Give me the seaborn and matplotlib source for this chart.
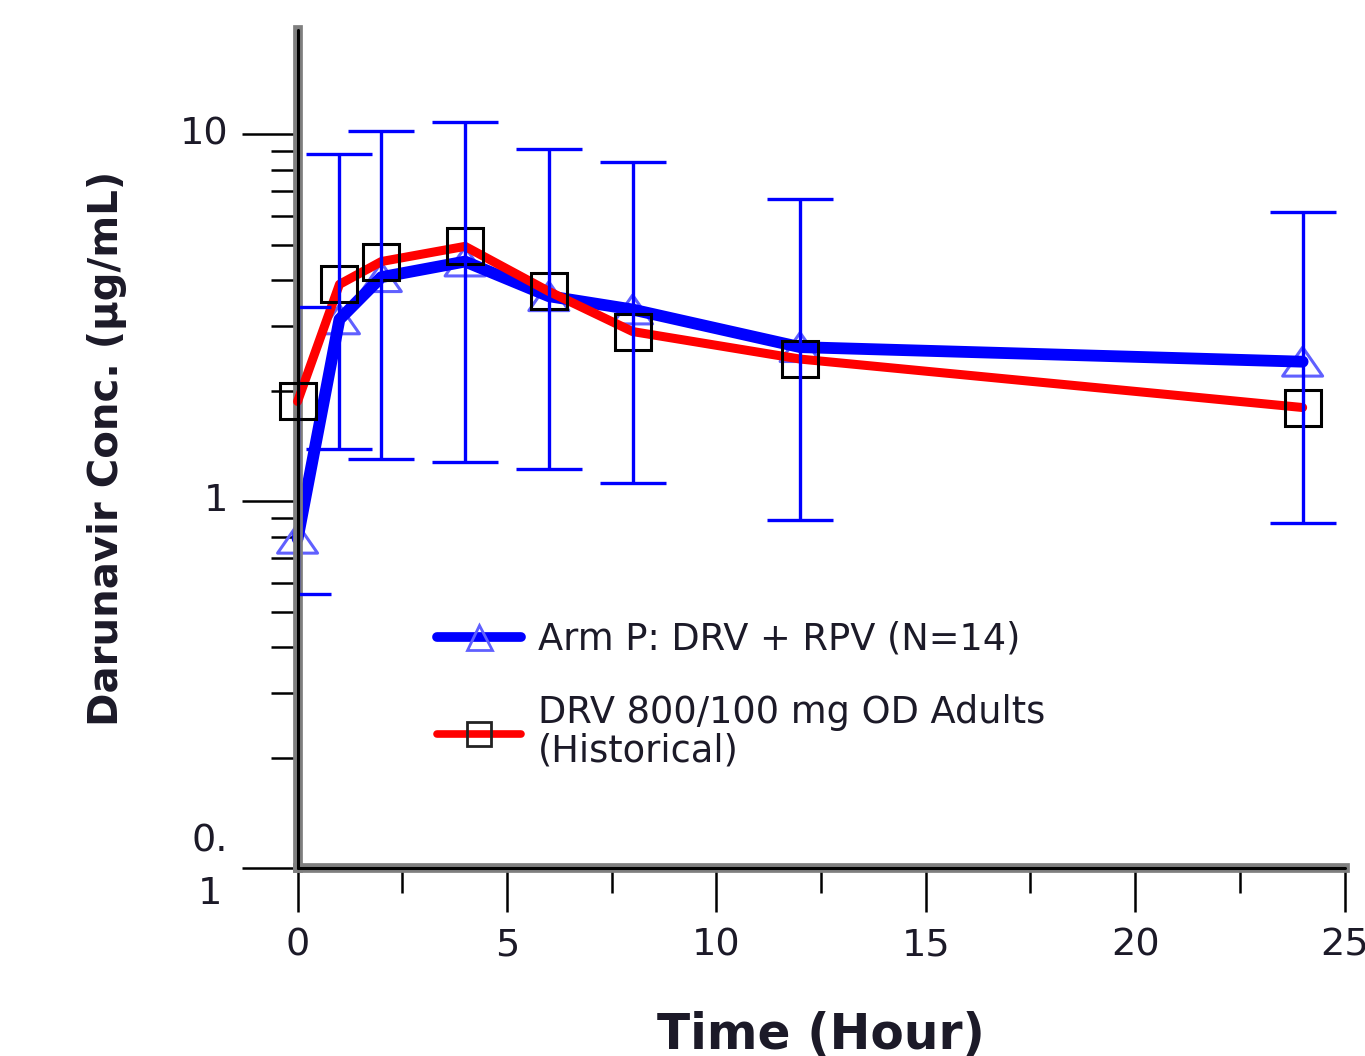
import seaborn as sns
import matplotlib.pyplot as plt
import pandas as pd
import numpy as np
from matplotlib.lines import Line2D
from matplotlib.path import Path
from matplotlib.ticker import FixedLocator, LogLocator, NullFormatter, MultipleLocator

# data
time_h      = [0, 1, 2, 4, 6, 8, 12, 24]
arm_p_mean  = [0.79, 3.13, 4.08, 4.5, 3.62, 3.33, 2.63, 2.40]
arm_p_low   = [0.56, 1.39, 1.30, 1.28, 1.22, 1.12, 0.89, 0.87]
arm_p_high  = [3.38, 8.83, 10.2, 10.8, 9.1, 8.4, 6.65, 6.13]
hist_mean   = [1.87, 3.9, 4.5, 4.95, 3.73, 2.9, 2.44, 1.80]

label_arm  = "Arm P: DRV + RPV (N=14)"
label_hist = "DRV 800/100 mg OD Adults\n(Historical)"
y_ticks       = [0.1, 1, 10]
y_tick_labels = ["0.\n1", "1", "10"]
x_ticks       = [0, 5, 10, 15, 20, 25]

sns.set_style("ticks")
plt.rcParams['font.family'] = ['DejaVu Sans']

text_col = '#1c1a28'
blue     = '#0000ff'
red      = '#ff0000'
tri_edge = '#6060ff'
# flat triangle, wider than tall
flat_tri = Path([(-1, -0.72), (1, -0.72), (0, 0.72), (-1, -0.72)],
                [Path.MOVETO, Path.LINETO, Path.LINETO, Path.CLOSEPOLY])

fig = plt.figure(figsize=(13.65, 10.56), dpi=100)
ax = fig.add_axes([0.218, 0.178, 0.767, 0.794])

df_arm  = pd.DataFrame({'time': time_h, 'conc': arm_p_mean})
df_hist = pd.DataFrame({'time': time_h, 'conc': hist_mean})

# triangles sit under the thick blue line
sns.scatterplot(data=df_arm, x='time', y='conc', ax=ax, marker=flat_tri, s=830,
                facecolor='none', edgecolor=tri_edge, linewidth=2.2,
                clip_on=False, zorder=1.5, legend=False)
sns.lineplot(data=df_arm, x='time', y='conc', ax=ax, color=blue, lw=8.5,
             clip_on=False, zorder=2, legend=False)
sns.lineplot(data=df_hist, x='time', y='conc', ax=ax, color=red, lw=6.5,
             marker='s', markersize=26, markerfacecolor='none',
             markeredgecolor='black', markeredgewidth=2.2,
             clip_on=False, zorder=3, legend=False)

yerr = [np.array(arm_p_mean) - np.array(arm_p_low),
        np.array(arm_p_high) - np.array(arm_p_mean)]
ax.errorbar(time_h, arm_p_mean, yerr=yerr, fmt='none', ecolor=blue,
            elinewidth=2.4, capsize=24, capthick=2.4, zorder=5)

ax.set_yscale('log')
ax.set_ylim(0.1, 19.3)
ax.set_xlim(0, 25)

ax.yaxis.set_major_locator(FixedLocator(y_ticks))
ax.set_yticklabels(y_tick_labels, multialignment='center', linespacing=1.6)
for lbl in ax.get_yticklabels():
    lbl.set_va('center')
ax.yaxis.set_minor_locator(LogLocator(base=10, subs=np.arange(2, 10)))
ax.yaxis.set_minor_formatter(NullFormatter())
ax.xaxis.set_major_locator(FixedLocator(x_ticks))
ax.xaxis.set_minor_locator(MultipleLocator(2.5))

ax.tick_params(axis='y', which='major', length=40, width=1.8, pad=10,
               labelsize=27.5, labelcolor=text_col, color='black')
ax.tick_params(axis='y', which='minor', length=19.5, width=1.8, color='black')
ax.tick_params(axis='x', which='major', length=32, width=1.8, pad=11,
               labelsize=27.5, labelcolor=text_col, color='black')
ax.tick_params(axis='x', which='minor', length=18, width=1.8, color='black')

for side in ['top', 'right']:
    ax.spines[side].set_visible(False)
for side in ['left', 'bottom']:
    ax.spines[side].set_color('#7f7f7f')
    ax.spines[side].set_linewidth(7)
ax.axvline(0, color='black', lw=2.2, zorder=6, clip_on=False)
ax.axhline(0.1, color='black', lw=2.2, zorder=6, clip_on=False)

ax.set_xlabel("Time (Hour)", fontsize=35, fontweight='bold', color=text_col)
ax.set_ylabel("Darunavir Conc. (µg/mL)", fontsize=29, fontweight='bold', color=text_col)
ax.xaxis.set_label_coords(0.5, -0.17)
ax.yaxis.set_label_coords(-0.163, 0.5)

handles = [
    Line2D([], [], color=blue, lw=7, marker='^', markersize=18,
           markerfacecolor='none', markeredgecolor=tri_edge, markeredgewidth=2),
    Line2D([], [], color=red, lw=5.5, marker='s', markersize=17,
           markerfacecolor='none', markeredgecolor='#222222', markeredgewidth=2),
]
leg = ax.legend(handles, [label_arm, label_hist], loc='upper left',
                bbox_to_anchor=(0.133, 0.295), frameon=False,
                fontsize=26.5, handlelength=2.3, handletextpad=0.45,
                labelspacing=1.0, borderpad=0, borderaxespad=0)
for t in leg.get_texts():
    t.set_color(text_col)
    t.set_linespacing(1.05)

fig.savefig('out.png', dpi=100)
